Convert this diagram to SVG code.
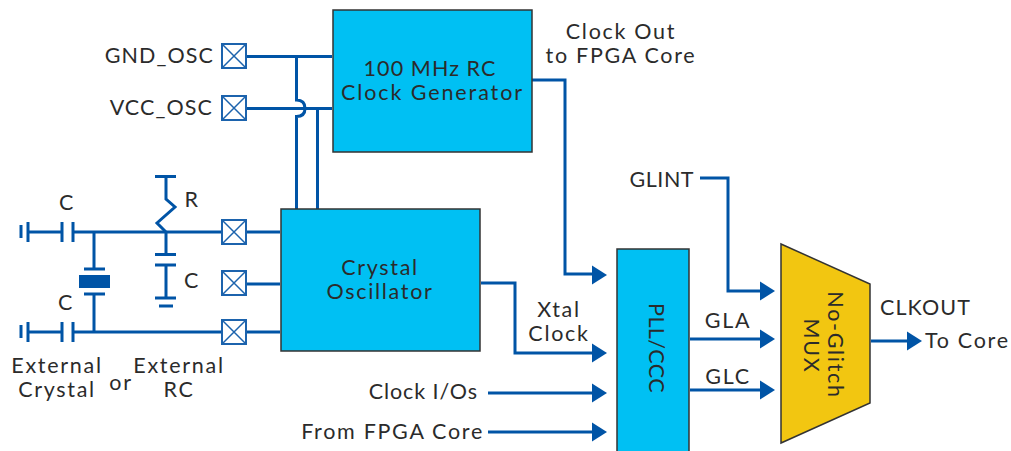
<svg xmlns="http://www.w3.org/2000/svg" width="1011" height="451" viewBox="0 0 1011 451">
<style>
text{font-family:"Lato","Open Sans",sans-serif;font-size:21.5px;fill:#2b2b2b;letter-spacing:1.7px}
.m{text-anchor:middle}.e{text-anchor:end}
.t{letter-spacing:1.1px}
.b{fill:#00c0f3;stroke:#333;stroke-width:1.5}
.w{fill:none;stroke:#0054a6;stroke-width:3}
.p{fill:#fff;stroke:#1c63ad;stroke-width:2}
.x{fill:none;stroke:#1c63ad;stroke-width:1.5}
.a{fill:#0054a6}
</style>
<defs>
<g id="pad"><rect class="p" x="-12" y="-12" width="24" height="24"/><path class="x" d="M-12-12L12 12M12-12L-12 12"/></g>
<path id="arr" class="a" d="M-15-9.500L0 0L-15 9.500Z"/>
</defs>
<rect width="1011" height="451" fill="#fff"/>
<g id="connectors">
<path class="w" d="M246 56.500H332M246 108.500H332M296.500 56.500V100C303 100 305 104 305 108.500C305 113 303 116.500 296.500 116.500V209M317.500 108.500V209"/>
<path class="w" d="M28 222V242M28 232H62M62 222V242M73 222V242M73 232H222M246 232H280M246 284H280M246 332H280M28 332H62M28 322V342M62 322V342M73 322V342M73 332H222M94 232V269M84 269H105M84 294H105M94 294V332"/>
<path class="w" d="M21 225V238M21 325V338"/>
<path class="a" d="M79 275H110V288H79Z"/>
<path class="w" d="M166 176V199L175 207L157 223L166 232V254M155 254.500H176M155 265H176M166 265V298M155 298H176M159 306H173M155 176.500H176"/>
<path class="w" d="M530 80H565V274H597"/>
<path class="w" d="M481 283H515V353H597"/>
<path class="w" d="M488 393H597M488 432H597"/>
<path class="w" d="M700 178H728V291H765"/>
<path class="w" d="M690 339H765M690 390H765M871 341H910"/>
<use href="#arr" x="607" y="275"/>
<use href="#arr" x="607" y="353"/>
<use href="#arr" x="607" y="393"/>
<use href="#arr" x="607" y="432"/>
<use href="#arr" x="775" y="291"/>
<use href="#arr" x="775" y="339"/>
<use href="#arr" x="775" y="390"/>
<use href="#arr" x="922" y="341"/>
</g>
<g id="pad-gnd"><use href="#pad" x="234" y="56"/><text class="e t" x="214" y="63">GND_OSC</text></g>
<g id="pad-vcc"><use href="#pad" x="234" y="108"/><text class="e t" x="213" y="115">VCC_OSC</text></g>
<g id="pad-1"><use href="#pad" x="234" y="232"/></g>
<g id="pad-2"><use href="#pad" x="234" y="283"/></g>
<g id="pad-3"><use href="#pad" x="234" y="332"/></g>
<g id="rc-gen"><rect class="b" x="333" y="10" width="199" height="142"/><text class="m t" x="430" y="76">100 MHz RC</text><text class="m" x="432.500" y="100" style="letter-spacing:1.9px">Clock Generator</text></g>
<g id="xtal"><rect class="b" x="281" y="209" width="199" height="142"/><text class="m" x="380" y="275">Crystal</text><text class="m" x="380" y="299">Oscillator</text></g>
<g id="pll"><rect class="b" x="617" y="249" width="72" height="220"/><text class="m" transform="translate(649 348) rotate(90)" style="letter-spacing:.4px">PLL/CCC</text></g>
<g id="mux"><path d="M781 244L870 284V403L781 443Z" fill="#f2c611" stroke="#333" stroke-width="1.500"/><text class="m" transform="translate(828 345) rotate(90)">No-Glitch</text><text class="m" transform="translate(804 346) rotate(90)">MUX</text></g>
<g id="labels">
<text class="m" x="621" y="39">Clock Out</text><text class="m" x="621" y="63">to FPGA Core</text>
<text class="e" x="694" y="187" style="letter-spacing:.5px">GLINT</text>
<text class="m" x="559" y="317">Xtal</text><text class="m" x="559" y="341">Clock</text>
<text class="e" x="478" y="399" style="letter-spacing:.9px">Clock I/Os</text>
<text class="e" x="484" y="439">From FPGA Core</text>
<text class="m" x="728" y="328">GLA</text><text class="m" x="728" y="384">GLC</text>
<text x="880" y="315" class="t">CLKOUT</text><text x="925" y="348">To Core</text>
<text class="m" x="67" y="210">C</text><text class="m" x="66" y="310">C</text><text class="m" x="192" y="207">R</text><text class="m" x="192" y="288">C</text>
<text class="m" x="57" y="372.500">External</text><text class="m" x="57" y="396.500">Crystal</text>
<text class="m" x="121" y="390">or</text>
<text class="m" x="179" y="372.500">External</text><text class="m" x="179" y="396.500">RC</text>
</g>
</svg>
